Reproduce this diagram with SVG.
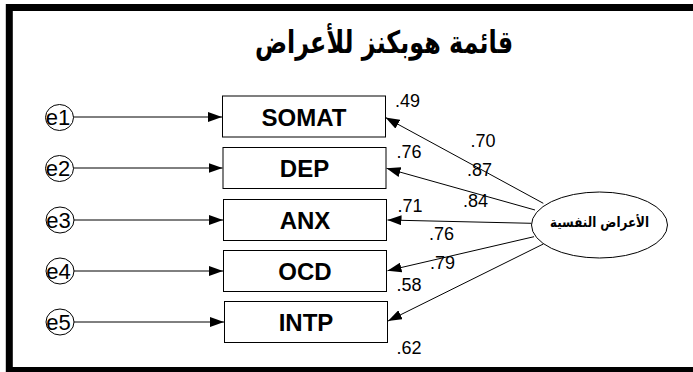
<svg xmlns="http://www.w3.org/2000/svg" width="693" height="372" viewBox="0 0 693 372">
  <style>
    .frame { fill: none; stroke: #000; stroke-width: 7; }
    .err { fill: #fff; stroke: #000; stroke-width: 1; }
    .err-label { font-family: "Liberation Sans", Arial, sans-serif; font-size: 22px; fill: #000; text-anchor: middle; }
    .box { fill: #fff; stroke: #000; stroke-width: 1; }
    .box-label { font-family: "Liberation Sans", Arial, sans-serif; font-size: 24px; font-weight: bold; fill: #000; text-anchor: middle; }
    .coef { font-family: "Liberation Sans", Arial, sans-serif; font-size: 18px; fill: #000; }
    .latent { fill: #fff; stroke: #000; stroke-width: 1; }
    .arabic { font-family: "DejaVu Sans", "Noto Sans", sans-serif; font-weight: bold; fill: #000; text-anchor: middle; }
    .link { stroke: #000; stroke-width: 1; fill: none; marker-end: url(#head); }
  </style>
  <defs>
    <marker id="head" markerUnits="userSpaceOnUse" markerWidth="14" markerHeight="10" refX="14" refY="5" orient="auto">
      <path d="M0,0 L14,5 L0,10 Z" fill="#000"/>
    </marker>
  </defs>

  <rect width="693" height="372" fill="#fff"/>
  <!-- heavy outer border, right edge runs off the canvas -->
  <rect class="frame" x="9.3" y="7.5" width="700" height="363"/>

  <text id="title" class="arabic" x="384" y="53" font-size="31" direction="rtl" textLength="258" lengthAdjust="spacingAndGlyphs">قائمة هوبكنز للأعراض</text>

  <g id="connectors">
    <line class="link" x1="73" y1="117" x2="222" y2="117"/>
    <line class="link" x1="73" y1="168" x2="222.5" y2="168"/>
    <line class="link" x1="73" y1="220" x2="223" y2="220"/>
    <line class="link" x1="73" y1="271" x2="223" y2="271"/>
    <line class="link" x1="73" y1="322" x2="224" y2="322"/>

    <line class="link" x1="543.3" y1="203.3" x2="385.5" y2="117.5"/>
    <line class="link" x1="535" y1="210" x2="386.5" y2="168.3"/>
    <line class="link" x1="531.5" y1="223.3" x2="387.5" y2="220"/>
    <line class="link" x1="534" y1="236.7" x2="387.5" y2="270.7"/>
    <line class="link" x1="543.3" y1="244" x2="388" y2="321"/>
  </g>

  <g id="e1"><ellipse class="err" cx="59.5" cy="117.5" rx="14" ry="13"/><text class="err-label" x="58" y="125">e1</text></g>
  <g id="e2"><ellipse class="err" cx="59.5" cy="168.5" rx="14" ry="13"/><text class="err-label" x="58" y="176">e2</text></g>
  <g id="e3"><ellipse class="err" cx="60" cy="220" rx="14" ry="13"/><text class="err-label" x="58.5" y="227.5">e3</text></g>
  <g id="e4"><ellipse class="err" cx="60" cy="271" rx="14" ry="13"/><text class="err-label" x="58.5" y="278.5">e4</text></g>
  <g id="e5"><ellipse class="err" cx="60" cy="322" rx="14" ry="13"/><text class="err-label" x="58.5" y="329.5">e5</text></g>

  <g id="somat"><rect class="box" x="222.5" y="96" width="163" height="41"/><text class="box-label" x="304" y="125.5">SOMAT</text></g>
  <g id="dep"><rect class="box" x="223" y="147.5" width="163" height="41"/><text class="box-label" x="304.5" y="177">DEP</text></g>
  <g id="anx"><rect class="box" x="223.5" y="199.5" width="163" height="41"/><text class="box-label" x="305" y="229">ANX</text></g>
  <g id="ocd"><rect class="box" x="223.5" y="250.5" width="163" height="41"/><text class="box-label" x="305" y="280">OCD</text></g>
  <g id="intp"><rect class="box" x="224.5" y="301.5" width="163" height="41"/><text class="box-label" x="306" y="331">INTP</text></g>

  <g id="symptoms">
    <ellipse class="latent" cx="599.5" cy="225" rx="68" ry="33"/>
    <text class="arabic" x="599.5" y="227" font-size="14" direction="rtl" textLength="99" lengthAdjust="spacingAndGlyphs">الأعراض النفسية</text>
  </g>

  <g id="coefficients">
    <text class="coef" x="395" y="106.5">.49</text>
    <text class="coef" x="396.5" y="157.5">.76</text>
    <text class="coef" x="397.5" y="211.5">.71</text>
    <text class="coef" x="396.5" y="290.5">.58</text>
    <text class="coef" x="396.5" y="354">.62</text>
    <text class="coef" x="470.5" y="147">.70</text>
    <text class="coef" x="467" y="176">.87</text>
    <text class="coef" x="463" y="207">.84</text>
    <text class="coef" x="429" y="240">.76</text>
    <text class="coef" x="430" y="269">.79</text>
  </g>
</svg>
